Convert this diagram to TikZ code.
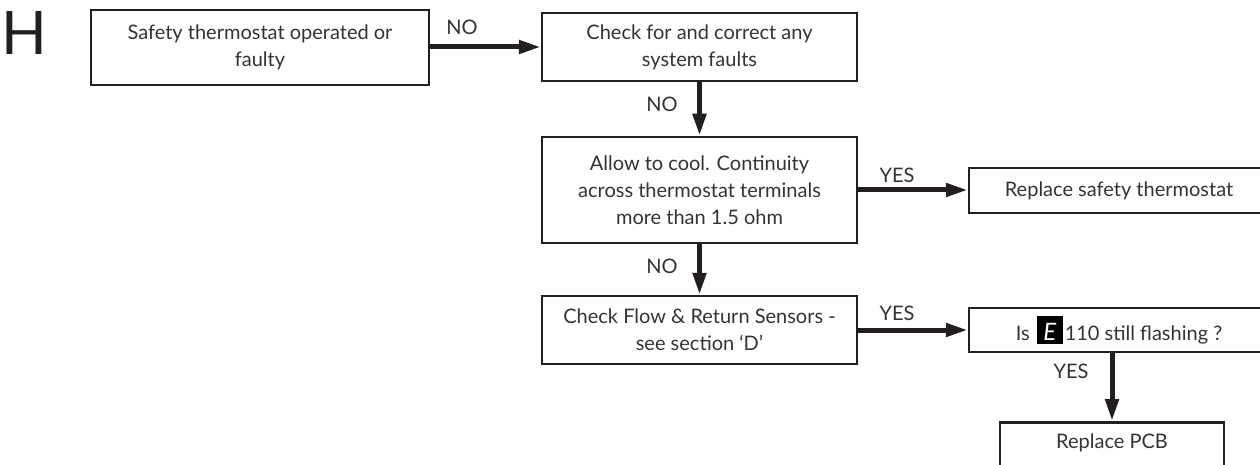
\documentclass[tikz,border=0pt]{standalone}
\usepackage{fontspec}
\setmainfont{Lato}
\usetikzlibrary{arrows.meta}
\definecolor{linec}{HTML}{231F20}
\definecolor{textc}{HTML}{333333}
\newcommand\boxfont{\fontsize{20}{27}\selectfont}
\newcommand\Ebox{{\setlength\fboxsep{0pt}\colorbox{black}{\makebox[26pt]{\rule[-4pt]{0pt}{28pt}\color{white}\itshape\fontsize{24}{24}\selectfont E}}}}
\begin{document}
\begin{tikzpicture}[x=1pt,y=-1pt,
  box/.style={draw=linec, line width=2.5pt, align=center, inner sep=0pt, font=\boxfont, text=textc},
  arr/.style={line width=5pt, draw=linec, -{Triangle[length=22pt,width=13pt]}},
  lbl/.style={font=\boxfont, text=textc, inner sep=0pt}]
\useasboundingbox (0,0) rectangle (1260,465);
\clip (0,0) rectangle (1260,465);
\node[text=linec, inner sep=0pt, font=\fontsize{60}{60}\selectfont] (H) at (24.5,33.5) {H};
\node[box, minimum width=338pt, minimum height=75pt] (b1) at (260,47.5) {Safety thermostat operated or\\faulty};
\node[box, minimum width=315pt, minimum height=68pt] (b2) at (699.5,47) {Check for and correct any\\system faults};
\node[box, minimum width=315pt, minimum height=106pt] (b3) at (699.5,190) {Allow to cool. Continuity\\across thermostat terminals\\more than 1.5 ohm};
\node[box, minimum width=315pt, minimum height=68pt] (b4) at (699.5,330) {Check Flow \& Return Sensors -\\see section ‘D’};
\node[box, minimum width=300pt, minimum height=45pt] (b7) at (1119,190.5) {Replace safety thermostat};
\node[box, minimum width=300pt, minimum height=44pt] (b5) at (1119,330) {Is\hspace{7pt}\Ebox\hspace{2pt}110 still flashing ?};
\node[box, minimum width=224pt, minimum height=50pt, anchor=north] (b6) at (1112,421) {};
\node[lbl] (t6) at (1112,443) {Replace PCB};
\draw[arr] (b1.east |- b2.west) -- (b2.west);
\draw[arr] (b2.south) -- (b3.north);
\draw[arr] (b3.south) -- (b4.north);
\draw[arr] (b3.east) -- (b7.west |- b3.east);
\draw[arr] (b4.east) -- (b5.west |- b4.east);
\draw[arr] (b5.south -| b6.north) -- (b6.north);
\node[lbl] (l1) at (462,27) {NO};
\node[lbl] (l2) at (662,104) {NO};
\node[lbl] (l3) at (662,266) {NO};
\node[lbl] (l4) at (897,175) {YES};
\node[lbl] (l5) at (897,313) {YES};
\node[lbl] (l6) at (1071,371) {YES};
\end{tikzpicture}
\end{document}
